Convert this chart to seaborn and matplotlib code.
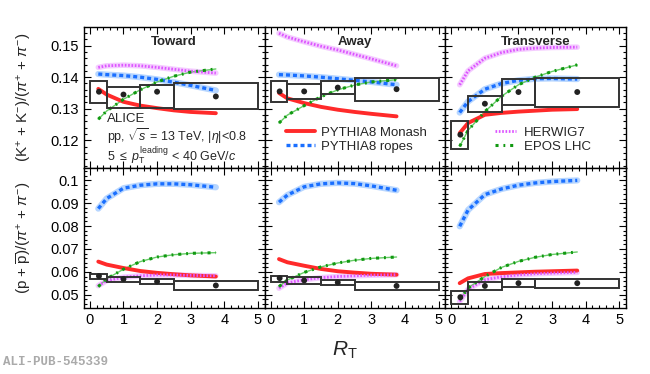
import numpy as np
import pandas as pd
import matplotlib
matplotlib.use("Agg")
import matplotlib.pyplot as plt
import seaborn as sns
from matplotlib.patches import Rectangle
from matplotlib.lines import Line2D
from matplotlib.ticker import MultipleLocator, FuncFormatter

# Données
regions = ['Toward', 'Away', 'Transverse']
rt_model = [0.25, 0.5, 1.0, 1.5, 2.0, 2.5, 3.0, 3.75]
rt_data = [0.27, 1.0, 2.0, 3.75]
bin_edges = [0.0, 0.5, 1.5, 2.5, 5.0]

# (K+ + K-)/(pi+ + pi-)
k_tow_monash = [0.1363, 0.1345, 0.1322, 0.1310, 0.1302, 0.1295, 0.1290, 0.1286]
k_tow_ropes = [0.1410, 0.1408, 0.1405, 0.1400, 0.1393, 0.1384, 0.1374, 0.1358]
k_tow_herwig = [0.1431, 0.1436, 0.1438, 0.1436, 0.1431, 0.1425, 0.1419, 0.1413]
k_tow_epos = [0.1267, 0.1293, 0.1330, 0.1360, 0.1385, 0.1403, 0.1416, 0.1426]
k_tow_val = [0.1354, 0.1345, 0.1354, 0.1339]
k_tow_sys_lo = [0.1318, 0.1301, 0.1302, 0.1299]
k_tow_sys_hi = [0.1388, 0.1368, 0.1375, 0.1382]

k_awy_monash = [0.1350, 0.1333, 0.1318, 0.1306, 0.1297, 0.1290, 0.1284, 0.1276]
k_awy_ropes = [0.1408, 0.1407, 0.1404, 0.1400, 0.1395, 0.1390, 0.1385, 0.1376]
k_awy_herwig = [0.1539, 0.1527, 0.1512, 0.1498, 0.1486, 0.1472, 0.1458, 0.1436]
k_awy_epos = [0.1255, 0.1280, 0.1310, 0.1338, 0.1360, 0.1375, 0.1385, 0.1392]
k_awy_val = [0.1355, 0.1355, 0.1367, 0.1362]
k_awy_sys_lo = [0.1320, 0.1331, 0.1347, 0.1326]
k_awy_sys_hi = [0.1387, 0.1379, 0.1387, 0.1396]

k_trn_monash = [0.1223, 0.1255, 0.1281, 0.1287, 0.1291, 0.1294, 0.1297, 0.1299]
k_trn_ropes = [0.1288, 0.1323, 0.1362, 0.1380, 0.1390, 0.1395, 0.1396, 0.1394]
k_trn_herwig = [0.1376, 0.1420, 0.1460, 0.1478, 0.1488, 0.1492, 0.1494, 0.1495]
k_trn_epos = [0.1181, 0.1232, 0.1291, 0.1340, 0.1376, 0.1400, 0.1418, 0.1439]
k_trn_val = [0.1218, 0.1316, 0.1353, 0.1353]
k_trn_sys_lo = [0.1174, 0.1290, 0.1312, 0.1305]
k_trn_sys_hi = [0.1262, 0.1341, 0.1394, 0.1397]

# (p + pbar)/(pi+ + pi-)
p_tow_monash = [0.0645, 0.0632, 0.0617, 0.0604, 0.0596, 0.0590, 0.0585, 0.0580]
p_tow_ropes = [0.0876, 0.0920, 0.0965, 0.0978, 0.0984, 0.0984, 0.0980, 0.0969]
p_tow_herwig = [0.0540, 0.0562, 0.0577, 0.0583, 0.0587, 0.0587, 0.0585, 0.0583]
p_tow_epos = [0.0536, 0.0570, 0.0612, 0.0645, 0.0665, 0.0675, 0.0681, 0.0684]
p_tow_val = [0.0582, 0.0569, 0.0558, 0.0541]
p_tow_sys_lo = [0.0569, 0.0558, 0.0547, 0.0522]
p_tow_sys_hi = [0.0592, 0.0578, 0.0569, 0.0561]

p_awy_monash = [0.0656, 0.0642, 0.0627, 0.0613, 0.0603, 0.0597, 0.0592, 0.0588]
p_awy_ropes = [0.0904, 0.0935, 0.0971, 0.0984, 0.0988, 0.0985, 0.0975, 0.0956]
p_awy_herwig = [0.0529, 0.0552, 0.0566, 0.0575, 0.0580, 0.0583, 0.0586, 0.0588]
p_awy_epos = [0.0536, 0.0565, 0.0598, 0.0622, 0.0639, 0.0651, 0.0659, 0.0665]
p_awy_val = [0.0573, 0.0563, 0.0554, 0.0539]
p_awy_sys_lo = [0.0558, 0.0548, 0.0541, 0.0522]
p_awy_sys_hi = [0.0583, 0.0577, 0.0566, 0.0556]

p_trn_monash = [0.0551, 0.0572, 0.0591, 0.0595, 0.0598, 0.0601, 0.0603, 0.0606]
p_trn_ropes = [0.0799, 0.0870, 0.0937, 0.0962, 0.0978, 0.0988, 0.0994, 0.0999]
p_trn_herwig = [0.0471, 0.0525, 0.0566, 0.0579, 0.0587, 0.0592, 0.0595, 0.0598]
p_trn_epos = [0.0478, 0.0530, 0.0580, 0.0620, 0.0646, 0.0664, 0.0676, 0.0687]
p_trn_val = [0.0490, 0.0539, 0.0551, 0.0551]
p_trn_sys_lo = [0.0459, 0.0522, 0.0534, 0.0529]
p_trn_sys_hi = [0.0519, 0.0554, 0.0570, 0.0570]

models = {
    ('K', 'Toward'): [k_tow_monash, k_tow_ropes, k_tow_herwig, k_tow_epos],
    ('K', 'Away'): [k_awy_monash, k_awy_ropes, k_awy_herwig, k_awy_epos],
    ('K', 'Transverse'): [k_trn_monash, k_trn_ropes, k_trn_herwig, k_trn_epos],
    ('p', 'Toward'): [p_tow_monash, p_tow_ropes, p_tow_herwig, p_tow_epos],
    ('p', 'Away'): [p_awy_monash, p_awy_ropes, p_awy_herwig, p_awy_epos],
    ('p', 'Transverse'): [p_trn_monash, p_trn_ropes, p_trn_herwig, p_trn_epos],
}
mesures = {
    ('K', 'Toward'): (k_tow_val, k_tow_sys_lo, k_tow_sys_hi),
    ('K', 'Away'): (k_awy_val, k_awy_sys_lo, k_awy_sys_hi),
    ('K', 'Transverse'): (k_trn_val, k_trn_sys_lo, k_trn_sys_hi),
    ('p', 'Toward'): (p_tow_val, p_tow_sys_lo, p_tow_sys_hi),
    ('p', 'Away'): (p_awy_val, p_awy_sys_lo, p_awy_sys_hi),
    ('p', 'Transverse'): (p_trn_val, p_trn_sys_lo, p_trn_sys_hi),
}

model_names = ['PYTHIA8 Monash', 'PYTHIA8 ropes', 'HERWIG7', 'EPOS LHC']
col_monash = '#ff2a2a'
col_ropes = '#1a6fff'
col_herwig = '#dd55ff'
col_epos = '#119911'

sns.set_style("ticks")
plt.rcParams['font.family'] = ['Liberation Sans', 'DejaVu Sans']
plt.rcParams['mathtext.fontset'] = 'custom'
plt.rcParams['mathtext.rm'] = 'Liberation Sans'
plt.rcParams['mathtext.it'] = 'Liberation Sans:italic'

fig, axes = plt.subplots(2, 3, figsize=(6.5, 3.74), dpi=100, sharex=True)
fig.subplots_adjust(left=0.129, right=0.963, top=0.928, bottom=0.176, hspace=0, wspace=0)

for i, part in enumerate(['K', 'p']):
    for j, reg in enumerate(regions):
        ax = axes[i, j]
        monash, ropes, herwig, epos = models[(part, reg)]
        df = pd.DataFrame({'RT': rt_model, 'monash': monash, 'ropes': ropes,
                           'herwig': herwig, 'epos': epos})

        # bandes claires sous les courbes
        sns.lineplot(data=df, x='RT', y='ropes', ax=ax, color='#88bbff', lw=4.5, alpha=0.6)
        sns.lineplot(data=df, x='RT', y='herwig', ax=ax, color='#eeaaff', lw=4.0, alpha=0.6)
        sns.lineplot(data=df, x='RT', y='epos', ax=ax, color='#66cc66', lw=1.0)

        # courbes des modèles
        sns.lineplot(data=df, x='RT', y='monash', ax=ax, color=col_monash, lw=2.8)
        sns.lineplot(data=df, x='RT', y='ropes', ax=ax, color=col_ropes, lw=2.4,
                     linestyle=(0, (1.2, 0.9)))
        sns.lineplot(data=df, x='RT', y='herwig', ax=ax, color=col_herwig, lw=2.0,
                     linestyle=(0, (0.6, 0.6)))
        sns.lineplot(data=df, x='RT', y='epos', ax=ax, color=col_epos, lw=2.2,
                     linestyle=(0, (1.0, 1.6, 0.6, 1.6)))

        # données avec boîtes d'incertitude systématique
        val, lo, hi = mesures[(part, reg)]
        for k in range(len(val)):
            ax.add_patch(Rectangle((bin_edges[k], lo[k]), bin_edges[k + 1] - bin_edges[k],
                                   hi[k] - lo[k], fill=False, edgecolor='#333333', lw=1.4,
                                   zorder=5))
        dpts = pd.DataFrame({'RT': rt_data, 'val': val})
        sns.scatterplot(data=dpts, x='RT', y='val', ax=ax, color='#222222', s=18,
                        edgecolor='none', zorder=6)

        ax.set_xlim(-0.18, 5.2)
        if part == 'K':
            ax.set_ylim(0.1114, 0.1559)
        else:
            ax.set_ylim(0.0442, 0.1055)
        ax.yaxis.set_major_locator(MultipleLocator(0.01))
        ax.yaxis.set_minor_locator(MultipleLocator(0.002))
        ax.xaxis.set_major_locator(MultipleLocator(1))
        ax.xaxis.set_minor_locator(MultipleLocator(0.2))
        ax.yaxis.set_major_formatter(FuncFormatter(lambda v, p: '%g' % round(v, 3)))
        ax.tick_params(direction='in', which='both', top=True, right=True,
                       labelsize=10.5, colors='black')
        ax.tick_params(which='major', length=5, width=0.8)
        ax.tick_params(which='minor', length=2.5, width=0.8)
        ax.set_xlabel('')
        ax.set_ylabel('')
        if j > 0:
            ax.tick_params(labelleft=False)
        for sp in ax.spines.values():
            sp.set_linewidth(1.0)
            sp.set_color('black')

        if part == 'K':
            ax.text(0.5, 0.89, reg, transform=ax.transAxes, ha='center', va='center',
                    fontsize=9.5, fontweight='bold')

axes[0, 0].set_ylabel('(K$^{+}$ + K$^{-}$)/($\\pi^{+}$ + $\\pi^{-}$)', fontsize=11, labelpad=12)
axes[1, 0].set_ylabel('(p + $\\overline{\\mathrm{p}}$)/($\\pi^{+}$ + $\\pi^{-}$)', fontsize=11, labelpad=12)
fig.align_ylabels(axes[:, 0])

# textes ALICE
ax = axes[0, 0]
ax.text(0.13, 0.345, 'ALICE', transform=ax.transAxes, fontsize=9.5, va='center')
ax.text(0.13, 0.222, 'pp, $\\sqrt{s}$ = 13 TeV, |$\\eta$|<0.8', transform=ax.transAxes,
        fontsize=9, va='center')
ax.text(0.13, 0.082, '5 $\\leq$ $p_{\\mathrm{T}}^{\\mathrm{leading}}$ < 40 GeV/$c$',
        transform=ax.transAxes, fontsize=9, va='center')

# légendes
h_monash = Line2D([], [], color=col_monash, lw=2.8)
h_ropes = Line2D([], [], color=col_ropes, lw=2.4, linestyle=(0, (1.2, 0.9)))
h_herwig = Line2D([], [], color=col_herwig, lw=2.0, linestyle=(0, (0.6, 0.6)))
h_epos = Line2D([], [], color=col_epos, lw=2.2, linestyle=(0, (1.0, 1.6, 0.6, 1.6)))
axes[0, 1].legend([h_monash, h_ropes], model_names[:2], loc='lower left',
                  bbox_to_anchor=(0.08, 0.06), frameon=False, fontsize=9.5,
                  handlelength=2.2, handletextpad=0.5, labelspacing=0.1, borderpad=0)
axes[0, 2].legend([h_herwig, h_epos], model_names[2:], loc='lower left',
                  bbox_to_anchor=(0.24, 0.06), frameon=False, fontsize=9.5,
                  handlelength=1.6, handletextpad=0.6, labelspacing=0.1, borderpad=0)

fig.text(0.53, 0.064, '$R_{\\mathrm{T}}$', fontsize=15, ha='center', va='center')
fig.text(0.005, 0.032, 'ALI-PUB-545339', fontsize=9, color='#aaaaaa', ha='left',
         va='center', family='Liberation Mono', fontweight='bold')

plt.savefig('out.png', dpi=100)
